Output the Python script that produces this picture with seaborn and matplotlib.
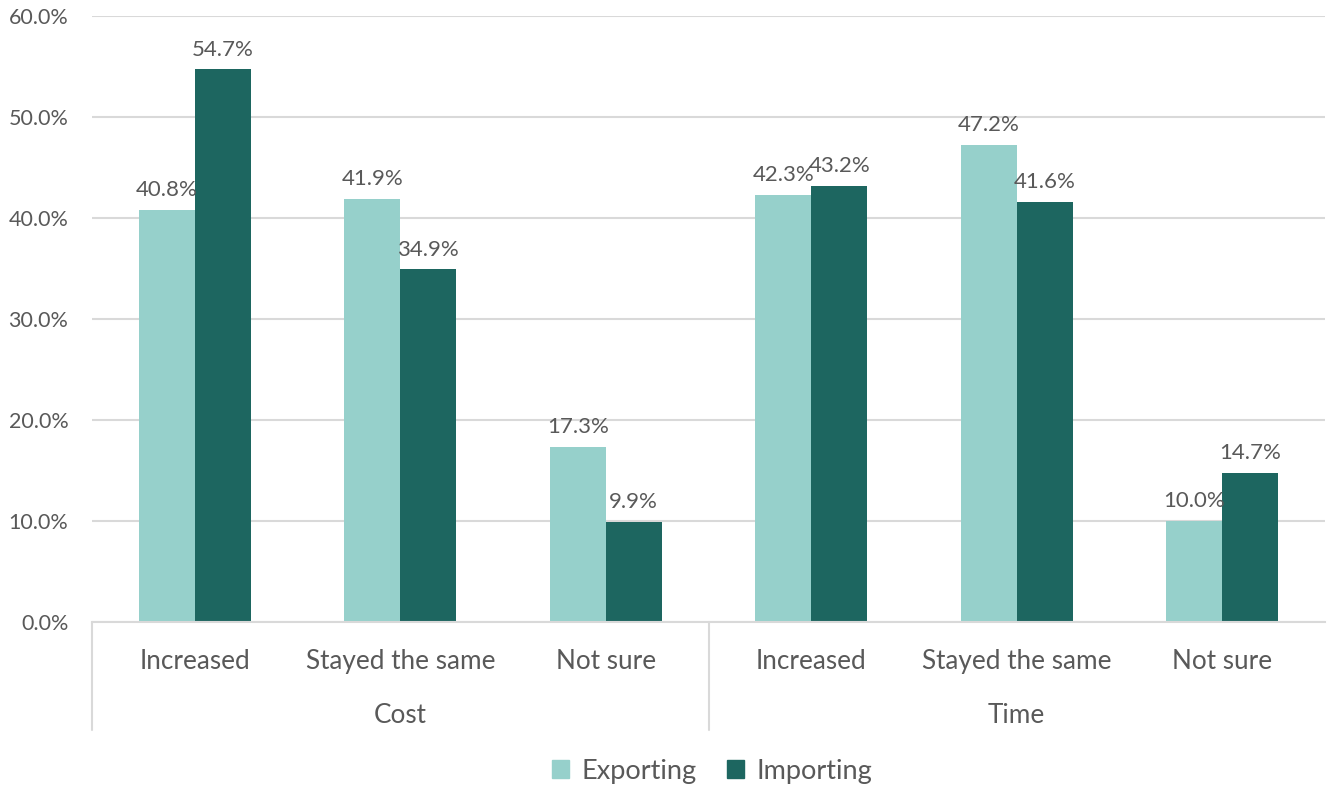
import matplotlib
matplotlib.use("Agg")
import matplotlib.pyplot as plt
import matplotlib.transforms as mtransforms
from matplotlib.ticker import PercentFormatter
import seaborn as sns
import pandas as pd

# ---- data ----
groups = ["Cost", "Cost", "Cost", "Time", "Time", "Time"]
categories = ["Increased", "Stayed the same", "Not sure",
              "Increased", "Stayed the same", "Not sure"]
exporting = [40.8, 41.9, 17.3, 42.3, 47.2, 10.0]
importing = [54.7, 34.9, 9.9, 43.2, 41.6, 14.7]
series_names = ["Exporting", "Importing"]
colors = ["#96D0CB", "#1D6660"]

keys = [f"{g}|{c}" for g, c in zip(groups, categories)]
df = pd.DataFrame({
    "key": keys * 2,
    "series": [series_names[0]] * 6 + [series_names[1]] * 6,
    "value": exporting + importing,
})

sns.set_theme(style="white")
plt.rcParams["font.family"] = ["Lato", "DejaVu Sans"]
text_col = "#595959"

fig = plt.figure(figsize=(13.32, 7.9), dpi=100)
ax = fig.add_axes([92 / 1332, 1 - 621.5 / 790, (1325 - 92) / 1332, (621.5 - 16) / 790])

sns.barplot(data=df, x="key", y="value", hue="series", order=keys,
            hue_order=series_names, palette=colors, width=0.545,
            saturation=1, ax=ax, legend=False, zorder=3, linewidth=0)

ax.set_ylim(0, 60)
ax.set_xlim(-0.5, 5.5)
ax.set_yticks([0, 10, 20, 30, 40, 50, 60])
ax.yaxis.set_major_formatter(PercentFormatter(decimals=1))
ax.grid(axis="y", color="#D9D9D9", linewidth=1.5, zorder=0)
ax.set_axisbelow(True)
for s in ["top", "right", "left"]:
    ax.spines[s].set_visible(False)
ax.spines["bottom"].set_color("#D9D9D9")
ax.spines["bottom"].set_linewidth(1.5)
ax.spines["bottom"].set_zorder(4)
ax.set_xlabel("")
ax.set_ylabel("")
ax.set_xticks(range(6))
ax.set_xticklabels(categories)
ax.tick_params(axis="x", length=0, pad=20, labelsize=18.8, labelcolor=text_col)
ax.tick_params(axis="y", length=0, pad=17, labelsize=15.5, labelcolor=text_col)

for cont in ax.containers:
    ax.bar_label(cont, labels=[f"{v:.1f}%" for v in cont.datavalues],
                 padding=7, fontsize=16, color=text_col)

# group separators and group labels
trans = mtransforms.blended_transform_factory(ax.transData, ax.transAxes)
for xpos in [-0.5, 2.5]:
    ax.plot([xpos, xpos], [0, -0.18], transform=trans, color="#D9D9D9",
            linewidth=1.5, clip_on=False)
for xpos, g in [(1, "Cost"), (4, "Time")]:
    ax.text(xpos, -0.155, g, transform=trans, ha="center", va="center",
            fontsize=18.8, color=text_col)

handles = [plt.Rectangle((0, 0), 1, 1, color=c) for c in colors]
fig.legend(handles, series_names, loc="center",
           bbox_to_anchor=(712 / 1332, 1 - 771 / 790), ncol=2, frameon=False,
           fontsize=19.5, labelcolor=text_col, handlelength=0.65, handleheight=0.65,
           handletextpad=0.45, columnspacing=1.1)

fig.savefig("out.png", dpi=100)
